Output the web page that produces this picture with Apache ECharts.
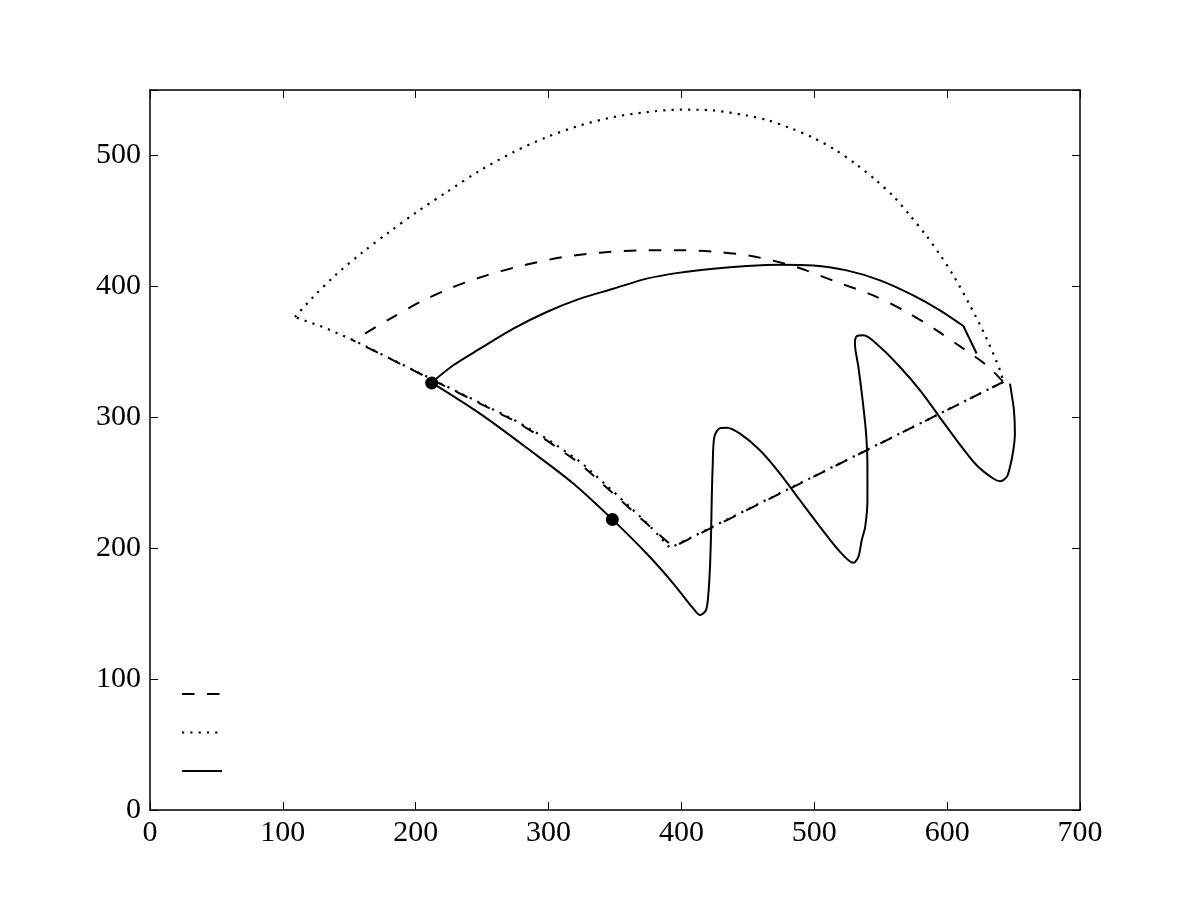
<!DOCTYPE html>
<html>
<head>
<meta charset="utf-8">
<script src="https://cdn.jsdelivr.net/npm/echarts@6/dist/echarts.min.js"></script>
<style>
html,body{margin:0;padding:0;background:#fff;}
#chart{width:1200px;height:900px;}
</style>
</head>
<body>
<div id="chart"></div>
<script>
// ---- data ----
const xTicks = [0, 100, 200, 300, 400, 500, 600, 700];
const yTicks = [0, 100, 200, 300, 400, 500];

// dashed trajectory: upper arc, then straight return and lower curve
const dashedArc = [
  [161.8,363.9],[180.6,375.2],[203.2,388],[228.3,399.5],[253.4,408.4],[281,416],
  [311.1,422.4],[338.7,425.7],[368.8,427.5],[398.9,427.6],[429,426.2],[456.6,422.4],
  [486.7,414.7],[516.9,403.3],[544.4,393.1],[569.5,380.4],[592.1,366.4],[612.2,352.4],
  [629.7,339.7],[642.3,327]
];
const dashedReturn = [
  [642.3,327],[393.9,201],
  [373.8,218.8],[348.7,241.7],[323.7,264.7],[298.6,282.4],[273.5,297.7],[248.4,310.5],
  [213.2,328.2],[185.7,342.2],[151.8,359.3]
];

// dotted trajectory: upper arc, then straight return and lower curve
const dottedArc = [
  [109.1,376.6],[122,391],[140,409],[160,426],[180,441.5],[200.7,456.7],
  [223.3,472],[248.4,488.5],[273.5,502.5],[298.6,514],[323.7,522.9],[348.7,529.3],
  [373.8,533.1],[398.9,535],[424,534.4],[449.1,530.5],[464.2,527.1],[481.7,521],
  [499.3,513.5],[515.6,504.4],[531.2,493.5],[545.7,481.7],[559.5,468.9],[572,454.2],
  [583.8,439.4],[594.6,424.2],[604.6,408.4],[617.2,385.5],[629.7,360.1],[639.8,336],
  [642.3,327]
];
const dottedReturn = [
  [642.3,327],[391.5,200.2],
  [373.5,219.8],[349,243],[324,266],[299,283.4],[273.5,298.3],[248.4,311],
  [213.2,328.6],[185.7,342.4],[151.8,359.5],[130.4,368.9],[109.1,376.6]
];

// solid trajectory: short tail, upper arc, lower curve with oscillations
const solidTail = [[622.2,348.7],[612.2,369.7]];
const solidArc = [
  [612.2,369.7],[594.6,381.7],[574.5,393.1],[549.5,404.6],[524.4,412.2],
  [499.3,416],[474.2,416.5],[449.1,415.5],[424,413.5],[398.9,410.5],[373.8,405.9],
  [348.7,398.2],[323.7,390.6],[298.6,380.4],[273.5,367.7],[248.4,352.4],[228.3,339.7],
  [212,326.5]
];
const solidLower = [
  [212,326.5],[248.4,302.8],[286,274.8],[318.6,249.4],[348,222],[373.8,195.9],[393.9,173],
  [409,153.8],[414.1,148.9],[418.5,152.7],[420.3,165.4],[421.5,185.7],[422.3,211.1],
  [422.8,236.6],[423.5,262],[424.8,285],[429,291.7],[434,292],[444.1,287.5],
  [459.1,274.8],[474.2,257],[489.2,236.6],[504.3,216.3],[519.4,197.2],[529.4,188.8],
  [533.2,193.4],[535.7,206.1],[538.3,216.3],[540,236.6],[540,262],[539,287.5],
  [536.4,312.9],[533.2,338.4],[530.6,356.2],[531.9,361.8],[536.9,362.6],[549.5,353.7],
  [564.5,338.4],[579.6,320.6],[593.4,301.5],[607.2,282.4],[622.2,263.4],[634.7,253.2],
  [639.8,251.1],[644.8,254.4],[647.3,262],[649.8,274.8],[651,287.5],[650.3,305.3],
  [648.5,318],[647.3,325.7]
];

// marked points
const markers = [[212,326.2],[348,221.9]];

const seriesNames = ['dashed', 'dotted', 'solid'];

// ---- chart ----
const chart = echarts.init(document.getElementById('chart'), null, {renderer: 'canvas'});
const font = 'Liberation Serif';
const axisCommon = {
  type: 'value',
  splitLine: {show: false},
  axisLine: {show: true, onZero: false, lineStyle: {color: '#000', width: 1.5}},
  axisTick: {show: true, inside: true, length: 8, lineStyle: {color: '#000', width: 1}}
};
const dashedStyle = {color: '#000', width: 2, type: [12.5, 12.5], cap: 'butt'};
const dottedStyle = {color: '#000', width: 2.2, type: [2.2, 6.1], cap: 'butt'};
const solidStyle = {color: '#000', width: 2, type: 'solid'};
function lineSeries(name, data, style, smooth) {
  return {
    name: name, type: 'line', data: data, showSymbol: false, symbol: 'none',
    smooth: smooth, silent: true, lineStyle: style, itemStyle: {color: '#000'}, z: 3
  };
}
const option = {
  animation: false,
  backgroundColor: '#fff',
  grid: {left: 150, right: 120, top: 90, bottom: 90, containLabel: false},
  xAxis: [
    Object.assign({}, axisCommon, {
      position: 'bottom', min: xTicks[0], max: xTicks[xTicks.length - 1], interval: 100,
      axisLabel: {color: '#000', fontFamily: font, fontSize: 30, margin: 8}
    }),
    Object.assign({}, axisCommon, {
      position: 'top', min: xTicks[0], max: xTicks[xTicks.length - 1], interval: 100,
      axisLabel: {show: false}
    })
  ],
  yAxis: [
    Object.assign({}, axisCommon, {
      position: 'left', min: 0, max: 550, interval: 100,
      axisLabel: {color: '#000', fontFamily: font, fontSize: 30, margin: 9,
        formatter: v => (yTicks.indexOf(v) >= 0 ? String(v) : '')}
    }),
    Object.assign({}, axisCommon, {
      position: 'right', min: 0, max: 550, interval: 100,
      axisLabel: {show: false}
    })
  ],
  legend: {
    data: seriesNames,
    orient: 'vertical',
    left: 181, top: 688.5, padding: 0,
    itemWidth: 40, itemHeight: 14, itemGap: 27.2,
    formatter: () => '',
    textStyle: {fontSize: 10, lineHeight: 10},
    itemStyle: {color: 'rgba(0,0,0,0)', borderWidth: 0, opacity: 0},
    selectedMode: false
  },
  series: [
    lineSeries('dashed', dashedArc, dashedStyle, 0.3),
    lineSeries('dashed', dashedReturn, dashedStyle, false),
    lineSeries('dotted', dottedArc, dottedStyle, 0.3),
    lineSeries('dotted', dottedReturn, dottedStyle, false),
    lineSeries('solid', solidTail, solidStyle, false),
    lineSeries('solid', solidArc, solidStyle, 0.3),
    lineSeries('solid', solidLower, solidStyle, 0.3),
    {
      name: 'points', type: 'scatter', data: markers, symbol: 'circle', symbolSize: 13,
      itemStyle: {color: '#000', opacity: 1}, silent: true, z: 5
    }
  ]
};
chart.setOption(option);
</script>
</body>
</html>
